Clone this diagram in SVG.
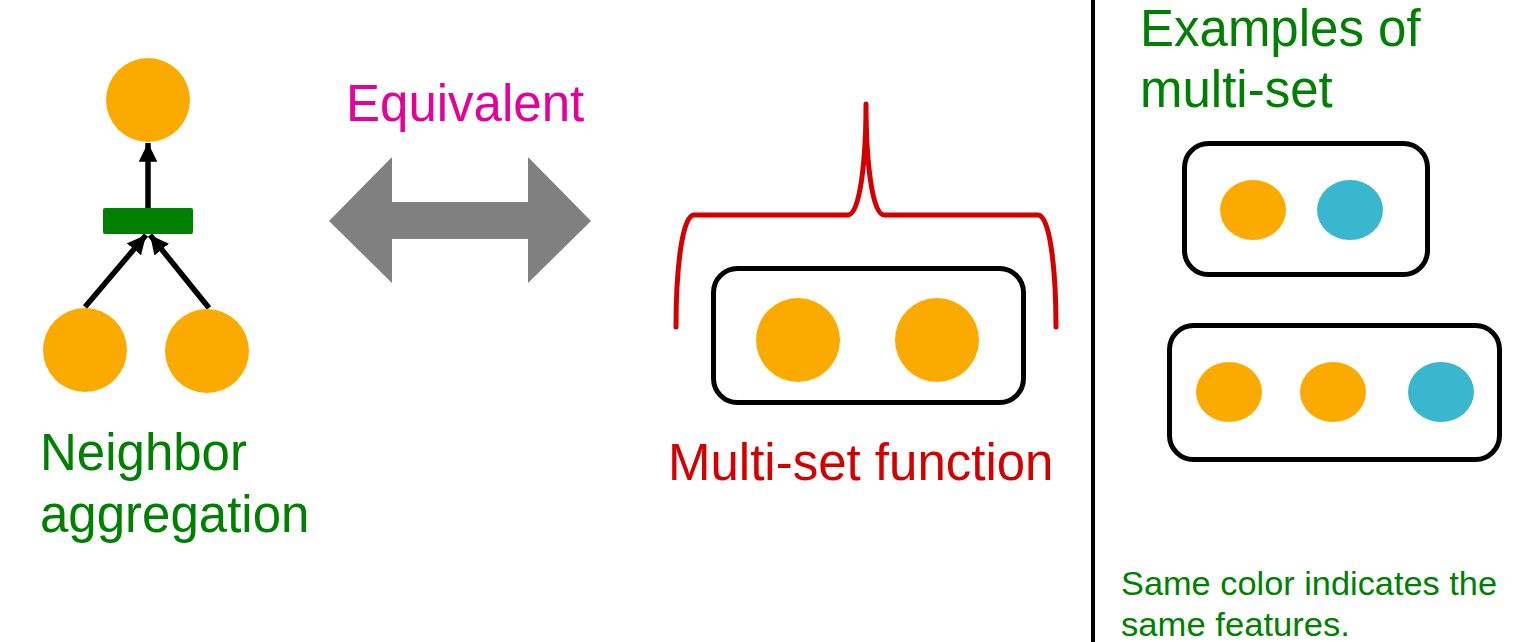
<svg xmlns="http://www.w3.org/2000/svg" width="1520" height="642" viewBox="0 0 1520 642">
<style>
.node{fill:#FBAB00}
.blue{fill:#38B7CF}
.set{fill:none;stroke:#000;stroke-width:5}
.edge{stroke:#000;stroke-width:5.5;fill:none}
.big{font-family:"Liberation Sans",Arial,sans-serif;font-size:51px}
.small{font-family:"Liberation Sans",Arial,sans-serif;font-size:33px}
.green{fill:#008000}
</style>
<defs>
<marker id="ah" viewBox="0 0 10 10" refX="10" refY="5" markerWidth="3.4" markerHeight="3.4" orient="auto" markerUnits="strokeWidth">
<path d="M0,0 L10,5 L0,10 z" fill="#000"/>
</marker>
</defs>
<rect width="1520" height="642" fill="#fff"/>

<g id="connectors">
<line class="edge" x1="148" y1="208" x2="148" y2="143" marker-end="url(#ah)"/>
<line class="edge" x1="85" y1="307" x2="146" y2="235" marker-end="url(#ah)"/>
<line class="edge" x1="209" y1="308" x2="150" y2="235" marker-end="url(#ah)"/>
</g>

<g id="left-graph">
<circle id="n-top" class="node" cx="148" cy="100" r="42"/>
<rect id="agg" x="103" y="208" width="90" height="26" rx="2" fill="#008000"/>
<circle id="n-left" class="node" cx="85" cy="350" r="42"/>
<circle id="n-right" class="node" cx="207" cy="351" r="42"/>
<text class="big green" x="40" y="470">Neighbor</text>
<text class="big green" x="40" y="532">aggregation</text>
</g>

<g id="equivalent">
<text class="big" x="346" y="121" fill="#E6009A">Equivalent</text>
<polygon points="329,221 392,157 392,202 528,202 528,157 591,221 528,283 528,239 392,239 392,283" fill="#808080"/>
</g>

<g id="multiset-function">
<path d="M676,327 C676,270 682,215 694,215 L848,215 C860,215 866,160 866,104 C866,160 872,215 884,215 L1038,215 C1050,215 1056,270 1056,327" fill="none" stroke="#D40000" stroke-width="5" stroke-linecap="round" stroke-linejoin="round"/>
<rect class="set" x="713.5" y="268.5" width="310" height="134" rx="24"/>
<circle class="node" cx="798" cy="340" r="42"/>
<circle class="node" cx="937" cy="340" r="42"/>
<text class="big" x="668" y="480" fill="#D40000">Multi-set function</text>
</g>

<line x1="1093" y1="0" x2="1093" y2="642" stroke="#000" stroke-width="4"/>

<g id="examples">
<text class="big green" x="1140" y="46">Examples of</text>
<text class="big green" x="1140" y="107">multi-set</text>
<rect class="set" x="1184.5" y="143.5" width="243" height="131" rx="24"/>
<ellipse class="node" cx="1253" cy="210" rx="33" ry="30"/>
<ellipse class="blue" cx="1350" cy="210" rx="33" ry="30"/>
<rect class="set" x="1169.5" y="325.5" width="330" height="134" rx="24"/>
<ellipse class="node" cx="1229" cy="392" rx="33" ry="30"/>
<ellipse class="node" cx="1333" cy="392" rx="33" ry="30"/>
<ellipse class="blue" cx="1441" cy="392" rx="33" ry="30"/>
<text class="small green" x="1121" y="595" textLength="376" lengthAdjust="spacingAndGlyphs">Same color indicates the</text>
<text class="small green" x="1121" y="636" textLength="229" lengthAdjust="spacingAndGlyphs">same features.</text>
</g>
</svg>
